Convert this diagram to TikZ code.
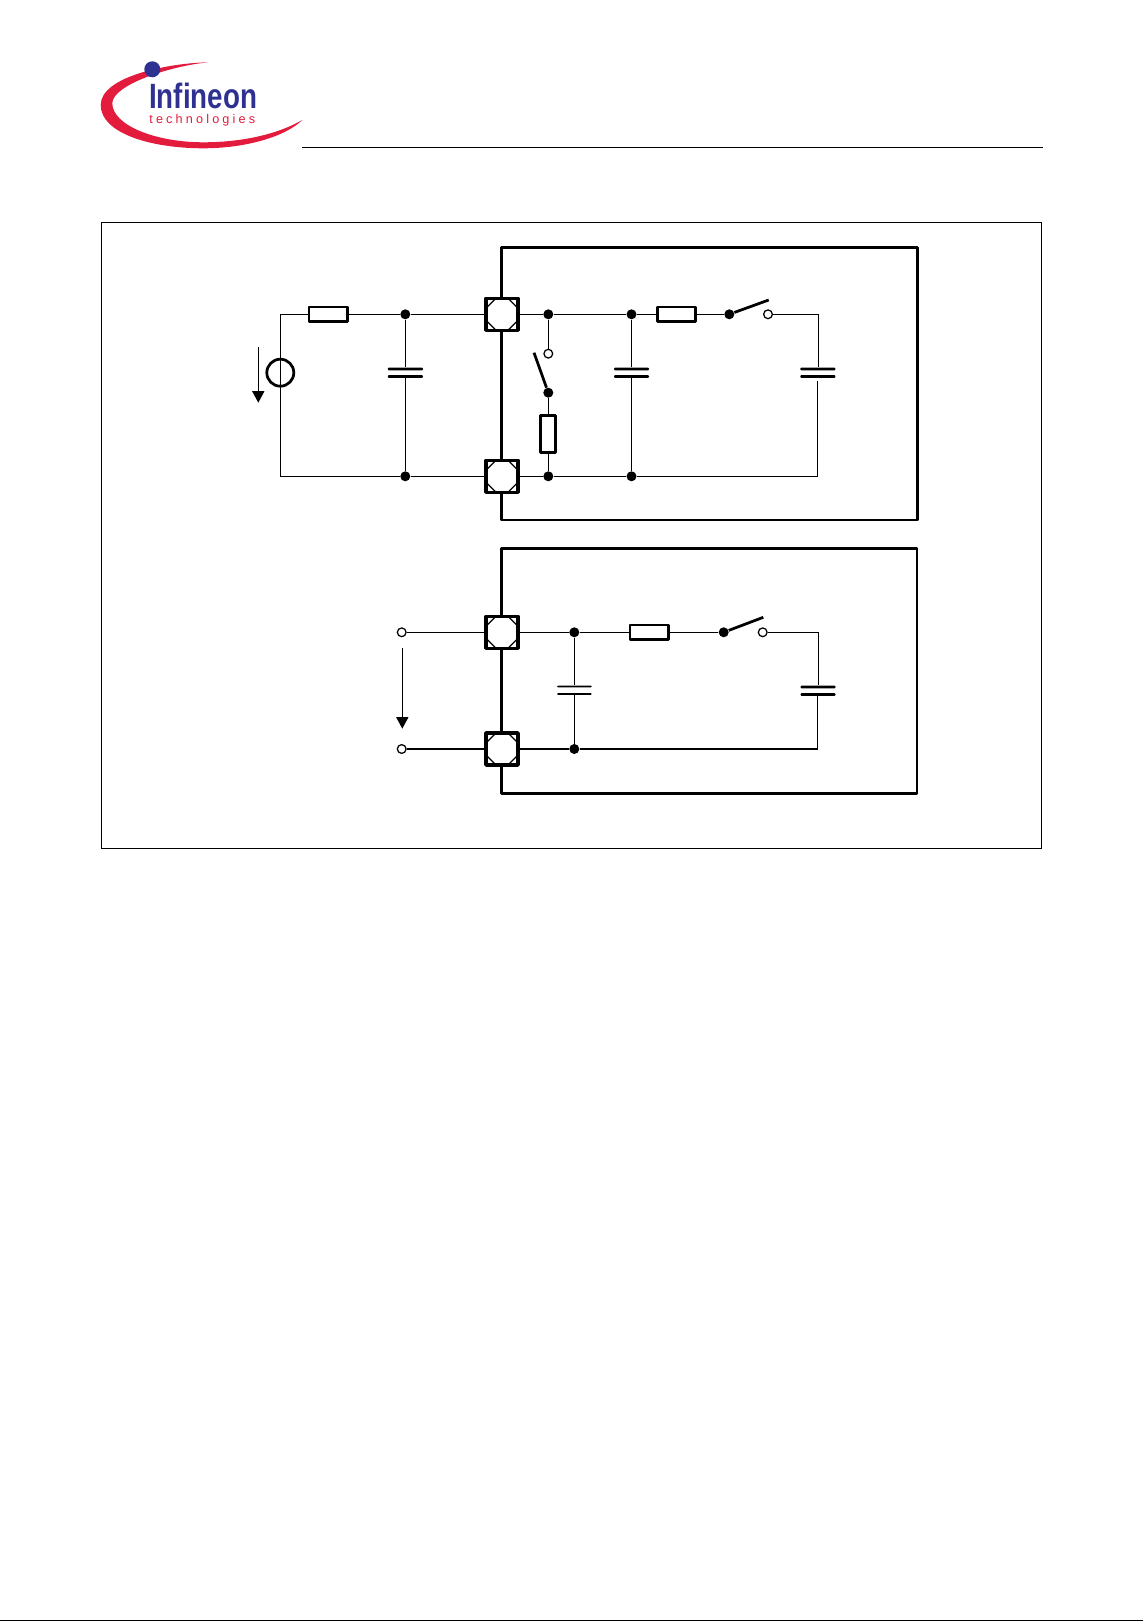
\documentclass[tikz,border=0pt]{standalone}
\usepackage{fontspec}
\setmainfont{Liberation Sans}
\usetikzlibrary{arrows.meta}
\definecolor{logoblue}{HTML}{2E3192}
\definecolor{logored}{HTML}{E31B3C}
\tikzset{
	wire/.style={line width=0.25mm},
	heavy/.style={line width=0.55mm, line join=round},
	resh/.style={draw, heavy, fill=white, inner sep=0, minimum width=0.77cm, minimum height=0.29cm},
	resv/.style={draw, heavy, fill=white, inner sep=0, minimum width=0.3cm, minimum height=0.74cm},
	dotnode/.style={circle, fill=black, inner sep=0, minimum size=0.2cm},
	opennode/.style={circle, draw, wire, fill=white, inner sep=0, minimum size=0.175cm},
	plate/.style={rectangle, fill=black, rounded corners=0.2mm, inner sep=0, minimum width=0.7cm, minimum height=0.058cm},
	thinplate/.style={plate, minimum height=0.032cm},
	padnode/.style={draw, line width=0.7mm, line join=round, fill=white, inner sep=0, minimum size=0.64cm,
		path picture={
			\draw[wire] (path picture bounding box.north west) ++(10,0) -- ++(-10,10);
			\draw[wire] (path picture bounding box.north east) ++(-10,0) -- ++(10,10);
			\draw[wire] (path picture bounding box.south west) ++(10,0) -- ++(-10,-10);
			\draw[wire] (path picture bounding box.south east) ++(-10,0) -- ++(10,-10);
		}},
	voltarrow/.style={wire, -{Triangle[length=2.3mm, width=2.4mm]}}
}

\begin{document}
\begin{tikzpicture}[x=0.02cm, y=-0.02cm]
	%%%%% START %%%%%
	\useasboundingbox (0, 0) rectangle (1143, 1621);

	% logo
	\fill[logored] (208.3, 62.3) .. controls (170, 63) and (100.7, 76) .. (100.7, 105)
		.. controls (100.7, 133) and (150, 148.3) .. (203.3, 148.3)
		.. controls (245, 148.3) and (285, 137) .. (302.3, 120)
		.. controls (280, 133) and (245, 142.3) .. (203.3, 142.3)
		.. controls (155, 142.3) and (112.3, 125) .. (112.3, 103.3)
		.. controls (112.3, 85) and (170, 66) .. (208.3, 62.3);
	\fill[logoblue] (152.3, 69.3) circle (8);
	\node[anchor=base west, inner sep=0, xscale=0.79, text=logoblue] (logoname) at (149, 108.7) {\fontsize{20}{20}\selectfont\bfseries Infineon};
	\node[anchor=base west, inner sep=0, text=logored] (logosub) at (149, 123.3) {\fontsize{7.2}{8}\selectfont\addfontfeatures{LetterSpace=25}technologies};

	% page rule and frame
	\draw[wire] (302.3, 147.3) -- (1042.7, 147.3);
	\draw[wire] (101.7, 222.7) rectangle (1041.5, 848.3);
	\draw[line width=0.2mm] (0, 1620.5) -- (1143, 1620.5);

	% chip outlines
	\draw[heavy] (501.5, 247.5) rectangle (917.2, 520);
	\draw[heavy] (501.5, 548.5) rectangle (917, 793.3);

	%%%%% upper circuit %%%%%
	\coordinate (srctop) at (280.3, 314.3);
	\coordinate (srcbot) at (280.3, 476.3);
	\node[resh] (resa) at (328.2, 314.3) {};
	\node[dotnode] (dota) at (405.3, 314.3) {};
	\node[dotnode] (dotb) at (405.3, 476.3) {};
	\node[plate] (capatop) at (405.3, 369) {};
	\node[plate] (capabot) at (405.3, 376.5) {};
	\node[padnode] (pada) at (502, 314.3) {};
	\node[padnode] (padb) at (502, 476.3) {};
	\node[dotnode] (dotc) at (548.3, 314.3) {};
	\node[dotnode] (dotd) at (548.3, 476.3) {};
	\node[opennode] (contacta) at (548.3, 353.7) {};
	\node[dotnode] (pivota) at (548.3, 392.7) {};
	\coordinate (arma) at (534, 352.7);
	\node[resv] (resb) at (548.3, 434.2) {};
	\node[dotnode] (dote) at (631.5, 314.3) {};
	\node[dotnode] (dotf) at (631.5, 476.3) {};
	\node[plate] (capbtop) at (631.5, 369) {};
	\node[plate] (capbbot) at (631.5, 376.5) {};
	\node[resh] (resc) at (676.5, 314.3) {};
	\node[dotnode] (pivotb) at (729.3, 314.3) {};
	\coordinate (armb) at (768.7, 300);
	\node[opennode] (contactb) at (768, 314.3) {};
	\coordinate (corna) at (818.3, 314.3);
	\node[plate] (capctop) at (817.8, 369) {};
	\node[plate] (capcbot) at (817.8, 376.5) {};
	\coordinate (leada) at (817.3, 381);
	\coordinate (cornb) at (817.3, 476.3);

	\draw[wire] (srctop) -- (srcbot);
	\draw[wire] (srctop) -- (resa);
	\draw[wire] (resa) -- (dota);
	\draw[wire] (dota) -- (pada);
	\draw[wire] (srcbot) -- (dotb);
	\draw[wire] (dotb) -- (padb);
	\draw[wire] (dota) -- (capatop);
	\draw[wire] (capabot) -- (dotb);
	\draw[wire] (pada) -- (dotc);
	\draw[wire] (dotc) -- (dote);
	\draw[wire] (padb) -- (dotd);
	\draw[wire] (dotd) -- (dotf);
	\draw[wire] (dotc) -- (contacta);
	\draw[heavy] (pivota) -- (arma);
	\draw[wire] (pivota) -- (resb);
	\draw[wire] (resb) -- (dotd);
	\draw[wire] (dote) -- (capbtop);
	\draw[wire] (capbbot) -- (dotf);
	\draw[wire] (dote) -- (resc);
	\draw[wire] (resc) -- (pivotb);
	\draw[heavy] (pivotb) -- (armb);
	\draw[wire] (contactb) -- (corna) -- (corna |- capctop.north);
	\draw[wire] (leada) -- (cornb) -- (dotf);

	\node[circle, draw, heavy, inner sep=0, minimum size=0.54cm] (srcv) at (280.3, 372.7) {};
	\coordinate (arrowatop) at (258.3, 347);
	\coordinate (arrowabot) at (258.3, 402.7);
	\draw[voltarrow] (arrowatop) -- (arrowabot);

	%%%%% lower circuit %%%%%
	\node[opennode] (porta) at (401.7, 632.3) {};
	\node[opennode] (portb) at (401.7, 749) {};
	\node[padnode] (padc) at (502, 632.3) {};
	\node[padnode] (padd) at (502, 749) {};
	\node[dotnode] (dotg) at (574.3, 632.3) {};
	\node[dotnode] (doth) at (574.3, 749) {};
	\node[thinplate] (capdtop) at (574.3, 686.5) {};
	\node[thinplate] (capdbot) at (574.3, 694) {};
	\node[resh] (resd) at (649.2, 632.3) {};
	\node[dotnode] (pivotc) at (723.7, 632.3) {};
	\coordinate (armc) at (763.3, 617.3);
	\node[opennode] (contactc) at (762.7, 632.3) {};
	\coordinate (cornc) at (818.3, 632.3);
	\node[plate] (capetop) at (818, 687) {};
	\node[plate] (capebot) at (818, 694.5) {};
	\coordinate (cornd) at (817.3, 749);

	\draw[wire] (porta) -- (padc);
	\draw[wire] (portb) -- (padd);
	\draw[wire] (padc) -- (dotg);
	\draw[wire] (padd) -- (doth);
	\draw[wire] (dotg) -- (capdtop);
	\draw[wire] (capdbot) -- (doth);
	\draw[wire] (dotg) -- (resd);
	\draw[wire] (resd) -- (pivotc);
	\draw[heavy] (pivotc) -- (armc);
	\draw[wire] (contactc) -- (cornc) -- (cornc |- capetop.north);
	\draw[wire] (doth) -- (cornd) -- (cornd |- capebot.south);

	\coordinate (arrowbtop) at (402.3, 648);
	\coordinate (arrowbbot) at (402.3, 728.7);
	\draw[voltarrow] (arrowbtop) -- (arrowbbot);

	%%%%% END %%%%%
\end{tikzpicture}
\end{document}
